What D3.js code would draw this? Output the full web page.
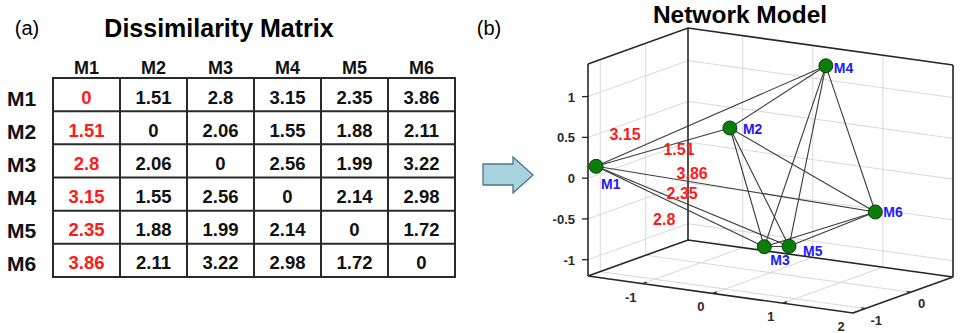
<!DOCTYPE html>
<html>
<head>
<meta charset="utf-8">
<script src="https://cdn.jsdelivr.net/npm/d3@7"></script>
<style>
  body { margin: 0; background: #fff; }
  svg { display: block; font-family: "Liberation Sans", Arial, sans-serif; }
</style>
</head>
<body>
<svg id="chart" width="960" height="333"></svg>
<script>
// ---- data ----
const labels = ['M1', 'M2', 'M3', 'M4', 'M5', 'M6'];
const rowM1 = [0, 1.51, 2.8, 3.15, 2.35, 3.86];
const rowM2 = [1.51, 0, 2.06, 1.55, 1.88, 2.11];
const rowM3 = [2.8, 2.06, 0, 2.56, 1.99, 3.22];
const rowM4 = [3.15, 1.55, 2.56, 0, 2.14, 2.98];
const rowM5 = [2.35, 1.88, 1.99, 2.14, 0, 1.72];
const rowM6 = [3.86, 2.11, 3.22, 2.98, 1.72, 0];
const dissim = [rowM1, rowM2, rowM3, rowM4, rowM5, rowM6];

// embedded coordinates of the network model
const nodeX = [-1.71, -0.45, 0.43, 0.53, -0.19, 1.30];
const nodeY = [-1.20, -0.20, -0.80, 0.40, 0.70, 0.30];
const nodeZ = [0.14, 0.56, -0.67, 1.32, -1.04, -0.36];

const xLim = [-1.78, 2], yLim = [-1.27, 0.93], zLim = [-1.2, 1.4];
const xTicks = [-1, 0, 1, 2];
const yTicks = [-1, 0];
const zTicks = [-1, -0.5, 0, 0.5, 1];

// ---- layout ----
const svg = d3.select('#chart');
const RED = '#ff1a1a', BLUE = '#1a1aff';

// panel labels / titles
svg.append('text').attr('x', 27).attr('y', 35).attr('text-anchor', 'middle')
  .style('font-size', '20px').text('(a)');
svg.append('text').attr('x', 219).attr('y', 37).attr('text-anchor', 'middle')
  .style('font-size', '25px').style('font-weight', 'bold').text('Dissimilarity Matrix');
svg.append('text').attr('x', 489).attr('y', 35).attr('text-anchor', 'middle')
  .style('font-size', '20px').text('(b)');
svg.append('text').attr('x', 740).attr('y', 23).attr('text-anchor', 'middle')
  .style('font-size', '24.5px').style('font-weight', 'bold').text('Network Model');

// ---- (a) table ----
const colScale = d3.scaleBand().domain(labels).range([53, 455]);
const rowScale = d3.scaleBand().domain(labels).range([78, 277]);
const table = svg.append('g');

table.selectAll('.col-head').data(labels).enter().append('text')
  .attr('x', d => colScale(d) + colScale.bandwidth() / 2)
  .attr('y', 74).attr('text-anchor', 'middle')
  .style('font-size', '18px').style('font-weight', 'bold').style('fill', '#111')
  .text(d => d);

table.selectAll('.row-head').data(labels).enter().append('text')
  .attr('x', 7)
  .attr('y', d => rowScale(d) + rowScale.bandwidth() / 2 + 11)
  .style('font-size', '21px').style('font-weight', 'bold').style('fill', '#111')
  .text(d => d);

const cells = [];
dissim.forEach((row, i) => row.forEach((v, j) => cells.push({ r: labels[i], c: labels[j], v: v, j: j })));

table.selectAll('.cell-line').data(labels.slice(1)).enter().append('line')
  .attr('x1', d => colScale(d)).attr('x2', d => colScale(d))
  .attr('y1', 78).attr('y2', 277)
  .style('stroke', '#2a2a2a').style('stroke-width', 2);
table.selectAll('.row-line').data(labels.slice(1)).enter().append('line')
  .attr('y1', d => rowScale(d)).attr('y2', d => rowScale(d))
  .attr('x1', 53).attr('x2', 455)
  .style('stroke', '#2a2a2a').style('stroke-width', 2);
table.append('rect').attr('x', 53).attr('y', 78).attr('width', 402).attr('height', 199)
  .style('fill', 'none').style('stroke', '#2a2a2a').style('stroke-width', 2);

table.selectAll('.cell').data(cells).enter().append('text')
  .attr('x', d => colScale(d.c) + colScale.bandwidth() / 2)
  .attr('y', d => rowScale(d.r) + rowScale.bandwidth() / 2 + 9)
  .attr('text-anchor', 'middle')
  .style('font-size', '18.5px').style('font-weight', 'bold')
  .style('fill', d => d.j === 0 ? RED : '#111')
  .text(d => d.v);

// ---- arrow ----
svg.append('path')
  .attr('d', d3.line()([[483, 164], [513, 164], [513, 157], [533, 175], [513, 193], [513, 185], [483, 185]]) + 'Z')
  .style('fill', '#a8d4e0').style('stroke', '#4e7585').style('stroke-width', 1.3);

// ---- (b) 3D network ----
const ORIGIN = [588, 276], U = [265, 37], V = [100, -36], W = [0, -212];
const xs = d3.scaleLinear().domain(xLim).range([0, 1]);
const ys = d3.scaleLinear().domain(yLim).range([0, 1]);
const zs = d3.scaleLinear().domain(zLim).range([0, 1]);
function proj(x, y, z) {
  const u = xs(x), v = ys(y), w = zs(z);
  return [ORIGIN[0] + u * U[0] + v * V[0] + w * W[0],
          ORIGIN[1] + u * U[1] + v * V[1] + w * W[1]];
}
const [x0, x1] = xLim, [y0, y1] = yLim, [z0, z1] = zLim;
const plot = svg.append('g');

// grid on the back planes
const grid = [];
zTicks.forEach(z => { grid.push([proj(x0, y0, z), proj(x0, y1, z)]); grid.push([proj(x0, y1, z), proj(x1, y1, z)]); });
yTicks.forEach(y => { grid.push([proj(x0, y, z0), proj(x0, y, z1)]); grid.push([proj(x0, y, z0), proj(x1, y, z0)]); });
xTicks.forEach(x => { grid.push([proj(x, y1, z0), proj(x, y1, z1)]); grid.push([proj(x, y0, z0), proj(x, y1, z0)]); });
plot.selectAll('.grid').data(grid).enter().append('path')
  .attr('d', d => d3.line()(d))
  .style('stroke', '#d8d8d8').style('stroke-width', 1).style('fill', 'none');

// box
const box = [
  [proj(x0, y0, z0), proj(x0, y0, z1)],
  [proj(x0, y1, z0), proj(x0, y1, z1)],
  [proj(x1, y1, z0), proj(x1, y1, z1)],
  [proj(x0, y0, z1), proj(x0, y1, z1), proj(x1, y1, z1)],
  [proj(x0, y0, z0), proj(x1, y0, z0), proj(x1, y1, z0), proj(x0, y1, z0), proj(x0, y0, z0)]
];
plot.selectAll('.box').data(box).enter().append('path')
  .attr('d', d => d3.line()(d))
  .style('stroke', '#262626').style('stroke-width', 1.6).style('fill', 'none');

// ticks
const tickSegs = [];
xTicks.forEach(x => { const p = proj(x, y0, z0); tickSegs.push([p, [p[0] + 4, p[1] - 1.5]]); });
yTicks.forEach(y => { const p = proj(x1, y, z0); tickSegs.push([p, [p[0] - 4, p[1] - 0.6]]); });
zTicks.forEach(z => { const p = proj(x0, y0, z); tickSegs.push([p, [p[0] - 6, p[1]]]); });
plot.selectAll('.tick').data(tickSegs).enter().append('path')
  .attr('d', d => d3.line()(d))
  .style('stroke', '#262626').style('stroke-width', 1.3);

const tickFont = sel => sel.style('font-size', '13px').style('font-weight', 'bold').style('fill', '#2a2a2a');
plot.selectAll('.xlab').data(xTicks).enter().append('text')
  .attr('x', d => proj(d, y0, z0)[0] - 12).attr('y', d => proj(d, y0, z0)[1] + 18)
  .attr('text-anchor', 'middle').call(tickFont).text(d => d);
plot.selectAll('.ylab').data(yTicks).enter().append('text')
  .attr('x', d => proj(x1, d, z0)[0] + 11).attr('y', d => proj(x1, d, z0)[1] + 16)
  .attr('text-anchor', 'middle').call(tickFont).text(d => d);
plot.selectAll('.zlab').data(zTicks).enter().append('text')
  .attr('x', d => proj(x0, y0, d)[0] - 13).attr('y', d => proj(x0, y0, d)[1] + 5)
  .attr('text-anchor', 'end').call(tickFont).text(d => d);

// network edges (complete graph)
const nodes = labels.map((name, i) => ({ name: name, i: i, p: proj(nodeX[i], nodeY[i], nodeZ[i]) }));
const edges = [];
nodes.forEach((a, i) => nodes.forEach((b, j) => { if (j > i) edges.push([a.p, b.p]); }));
plot.selectAll('.edge').data(edges).enter().append('path')
  .attr('d', d => d3.line()(d))
  .style('stroke', '#3a3a3a').style('stroke-width', 1.1).style('fill', 'none');

// red distance labels on the M1 edges: [target node, fraction along edge, dx, dy]
const edgeLabelPos = [[3, 0.126, 0, -20], [1, 0.62, 0, 6], [5, 0.344, 0, -9], [4, 0.446, 0, -9], [2, 0.405, 0, 20]];
plot.selectAll('.dist').data(edgeLabelPos).enter().append('text')
  .attr('x', d => nodes[0].p[0] + d[1] * (nodes[d[0]].p[0] - nodes[0].p[0]) + d[2])
  .attr('y', d => nodes[0].p[1] + d[1] * (nodes[d[0]].p[1] - nodes[0].p[1]) + d[3] + 6)
  .attr('text-anchor', 'middle')
  .style('font-size', '16px').style('font-weight', 'bold').style('fill', RED)
  .text(d => dissim[0][d[0]]);

// nodes
plot.selectAll('.node').data(nodes).enter().append('circle')
  .attr('cx', d => d.p[0]).attr('cy', d => d.p[1]).attr('r', 7)
  .style('fill', '#0b7d0b').style('stroke', '#0a3d0a').style('stroke-width', 1);

const nodeLabelOffset = [[5, 23], [13, 6], [6, 18], [8, 7], [14, 10], [8, 5]];
plot.selectAll('.nlab').data(nodes).enter().append('text')
  .attr('x', d => d.p[0] + nodeLabelOffset[d.i][0])
  .attr('y', d => d.p[1] + nodeLabelOffset[d.i][1])
  .style('font-size', '14px').style('font-weight', 'bold').style('fill', BLUE)
  .text(d => d.name);
</script>
</body>
</html>
